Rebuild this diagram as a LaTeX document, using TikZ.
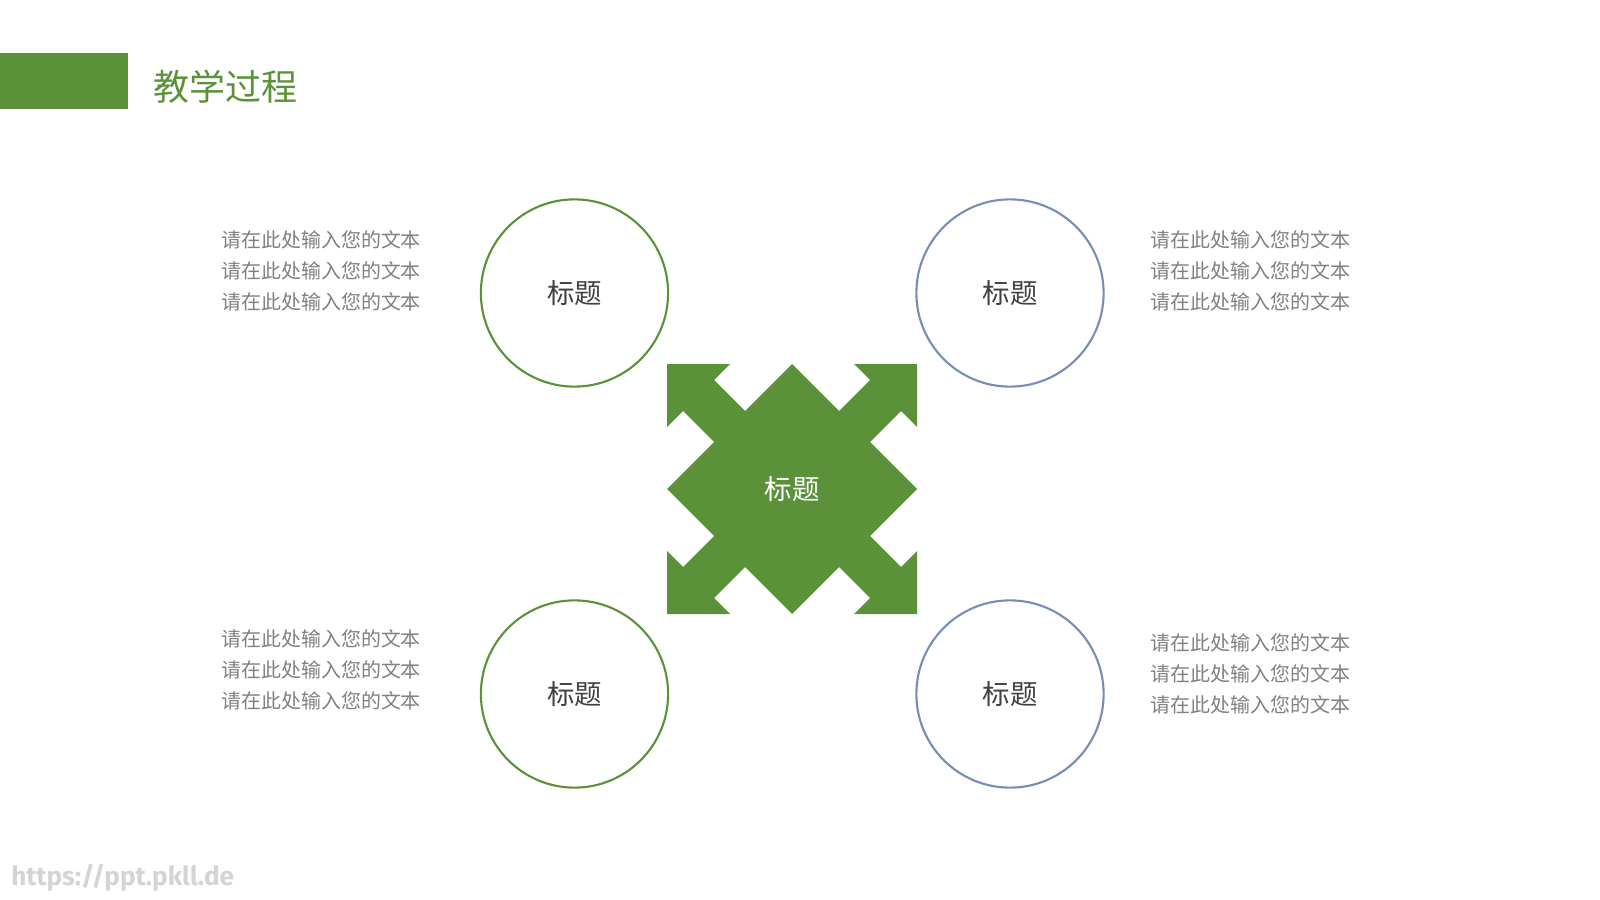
\documentclass[tikz,border=0pt]{standalone}
\usepackage{fontspec}
\setmainfont{Noto Sans CJK SC}
\newfontfamily\urlfont{Fira Sans}
\usetikzlibrary{positioning}
\definecolor{leafgreen}{RGB}{91,145,57}
\definecolor{slateblue}{RGB}{120,141,178}
\definecolor{bodygray}{RGB}{128,128,128}
\definecolor{labelgray}{RGB}{64,64,64}
\definecolor{markgray}{RGB}{212,212,212}
\tikzstyle{topic} = [circle, draw=leafgreen, line width=1.5pt, minimum size=4.68cm, inner sep=0pt, text=labelgray, font=\fontsize{19.5pt}{22pt}\selectfont]
\tikzstyle{topicb} = [topic, draw=slateblue]
\tikzstyle{note} = [align=left, anchor=west, inner sep=0pt, text=bodygray, font=\fontsize{14.2pt}{22pt}\selectfont]
\newcommand{\bodytext}{请在此处输入您的文本\\请在此处输入您的文本\\请在此处输入您的文本}

\begin{document}
\begin{tikzpicture}[x=0.025cm,y=-0.025cm]
\useasboundingbox (0,0) rectangle (1600,900);

\node (bar) [fill=leafgreen, minimum width=3.2cm, minimum height=1.4cm, inner sep=0pt, anchor=north west] at (0,53) {};
\node (title) [anchor=west, inner sep=0pt, text=leafgreen, font=\fontsize{25.6pt}{30pt}\selectfont] at (153,87) {教学过程};

% four-way arrow in the middle
\begin{scope}[shift={(667,364)}]
\fill[leafgreen] (0,0) -- (63,0) -- (47,16) -- (78,47) -- (125,0) -- (172,47) -- (203,16) -- (187,0) -- (250,0)
  -- (250,63) -- (234,47) -- (203,78) -- (250,125) -- (203,172) -- (234,203) -- (250,187) -- (250,250)
  -- (187,250) -- (203,234) -- (172,203) -- (125,250) -- (78,203) -- (47,234) -- (63,250) -- (0,250)
  -- (0,187) -- (16,203) -- (47,172) -- (0,125) -- (47,78) -- (16,47) -- (0,63) -- cycle;
\end{scope}
\node (hub) [text=white, font=\fontsize{19.5pt}{22pt}\selectfont] at (792,489) {标题};

\node (c1) [topic] at (574.5,293) {标题};
\node (c2) [topicb] at (1010,293) {标题};
\node (c3) [topic] at (574.5,694) {标题};
\node (c4) [topicb] at (1010,694) {标题};

\node (t1) [note] at (221,271) {\bodytext};
\node (t2) [note] at (1150,271) {\bodytext};
\node (t3) [note] at (221,670) {\bodytext};
\node (t4) [note] at (1150,673.5) {\bodytext};

\node (url) [anchor=west, inner sep=0pt, text=markgray, font=\urlfont\bfseries\fontsize{18.6pt}{19pt}\selectfont] at (11,878) {https://ppt.pkll.de};

\end{tikzpicture}
\end{document}
